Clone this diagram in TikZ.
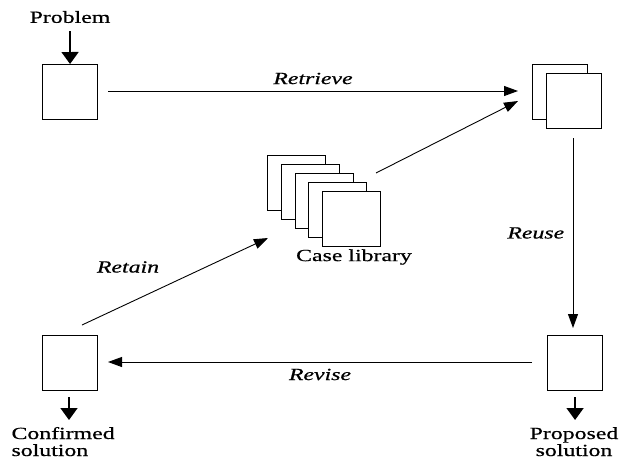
\documentclass[tikz,border=0pt]{standalone}
\usepackage{fontspec}
\setmainfont{Liberation Serif}[FakeStretch=1.4,FakeBold=0.6]
\usetikzlibrary{arrows.meta}
\begin{document}
\begin{tikzpicture}[x=1pt,y=-1pt,
  box/.style={draw,line width=1.1pt,fill=white,minimum width=#1,minimum height=55pt,inner sep=0pt,anchor=north west},
  box/.default=55pt,
  conn/.style={line width=0.9pt,-{Triangle[length=14pt,width=10pt]}},
  small/.style={line width=1.6pt,-{Triangle[length=12pt,width=17pt]}},
  lbl/.style={font=\fontsize{17}{17}\selectfont},
  ilbl/.style={font=\fontsize{17}{17}\selectfont\itshape}]
\useasboundingbox (0,0) rectangle (624,461);
% problem
\node[lbl] (prob) at (70,17) {Problem};
\node[box] (b1) at (42,64) {};
\draw[small] (70,31) -- (b1.north);
% top right stack
\node[box] (tr1) at (532,64) {};
\node[box] (tr2) at (546,73) {};
\coordinate (trin) at (518,91);
\coordinate (trin2) at (518,101);
% case library stack
\node[box=58pt] (c1) at (267,155) {};
\node[box=58pt] (c2) at (280.75,164) {};
\node[box=58pt] (c3) at (294.5,173) {};
\node[box=58pt] (c4) at (308.25,182) {};
\node[box=58pt] (c5) at (322,191) {};
\node[lbl] (clab) at (354,257) {Case library};
\coordinate (clout) at (376,173);
\coordinate (clin) at (268,238);
% proposed
\node[box] (bp) at (547,335) {};
\node[lbl,align=center,anchor=base] (plab) at (574,456) {Proposed\\solution};
\draw[small] (bp.south |- 0,397) -- (bp.south |- 0,420);
% confirmed
\node[box] (bc) at (42,335) {};
\node[lbl,align=left,anchor=base west] (clab2) at (8,456) {Confirmed\\solution};
\draw[small] (69,397) -- (69,420);
% connectors
\draw[conn] (108,91) -- node[ilbl,above=3pt]{Retrieve} (trin);
\draw[conn] (clout) -- (trin2);
\draw[conn] (573,138) -- node[ilbl,left=5pt]{Reuse} (573,328);
\draw[conn] (532,362) -- node[ilbl,below=3pt]{Revise} (108,362);
\draw[conn] (82,325) -- (clin);
\node[ilbl] (retl) at (128,267) {Retain};
\end{tikzpicture}
\end{document}
